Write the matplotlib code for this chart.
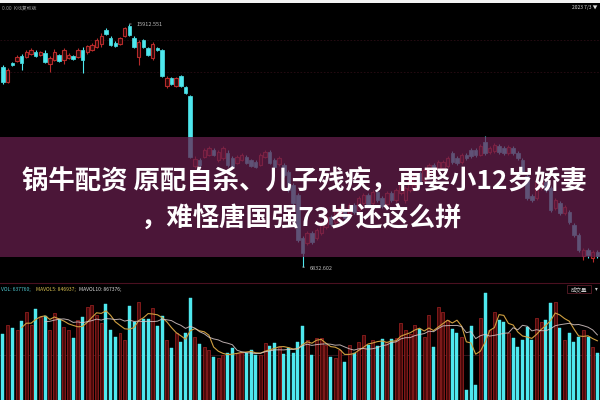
import matplotlib
matplotlib.use('Agg')
import matplotlib.pyplot as plt
import numpy as np
from matplotlib.patches import Rectangle

plt.rcParams['font.family'] = ['Noto Sans CJK SC', 'DejaVu Sans']

opens = [14320, 13720, 14480, 14560, 14760, 14720, 14840, 14920, 14800, 14880,
         14440, 14600, 14800, 14600, 14680, 14760, 14720, 15000, 14920, 15000,
         15120, 15240, 15800, 15480, 15280, 15240, 15560, 15960, 15480, 14720,
         15400, 15080, 14680, 15080, 15000, 13560, 13880, 13560, 13960, 13520,
         13160, 10360, 10600, 10720, 10800, 11000, 10600, 10680, 10880, 10680,
         10480, 10600, 10720, 10600, 10520, 10400, 10720, 10920, 10600, 10440,
         10400, 10120, 9600, 9200, 7480, 7280, 7680, 7480, 7680, 7920,
         8320, 8120, 8360, 8600, 8400, 8800, 8600, 8880, 9200, 8880,
         9320, 9080, 8840, 9280, 9000, 9280, 9000, 9400, 9600, 10080,
         9800, 10000, 10400, 10200, 10280, 10360, 10880, 10680, 10520, 10800,
         11000, 11000, 10800, 11320, 10920, 10960, 11160, 11080, 10880, 11080,
         10880, 10600, 9960, 9160, 9080, 9480, 9720, 9480, 8680, 8880,
         8480, 8520, 8000, 7600, 6760, 7000, 6680, 6920]
closes = [13720, 14200, 14400, 14720, 14480, 14920, 15000, 14760, 14920, 14520,
          14680, 14920, 14560, 15000, 14800, 14640, 15000, 14600, 15160, 15200,
          15400, 15560, 15640, 15200, 15160, 15480, 15880, 15600, 15120, 15320,
          15120, 14800, 15240, 15000, 13960, 13880, 13640, 13880, 13560, 13280,
          10720, 10640, 10400, 11000, 11080, 10800, 10920, 11080, 10400, 10320,
          10720, 10800, 10480, 10360, 10320, 10800, 10920, 10480, 10320, 10680,
          10000, 9400, 8880, 7400, 6880, 7680, 7320, 7800, 8080, 8320,
          8040, 8600, 8680, 8280, 8800, 8520, 9080, 9200, 8800, 9320,
          9000, 8760, 9280, 9000, 9400, 9680, 9480, 9800, 10000, 9680,
          10200, 10400, 10120, 10520, 10520, 10680, 10520, 10480, 10800, 10680,
          10760, 10800, 11160, 10880, 11080, 11200, 10920, 10880, 11120, 10880,
          10680, 10120, 9080, 9000, 9720, 9720, 9400, 8600, 9000, 8480,
          8720, 8120, 7600, 7000, 7000, 6800, 6920, 6760]
highs = [14400, 14280, 14520, 14800, 14840, 15000, 15080, 15000, 14960, 15000,
         14760, 15040, 14840, 15080, 14880, 14800, 15080, 15120, 15200, 15280,
         15480, 15680, 15880, 15560, 15360, 15520, 15920, 16040, 15560, 15400,
         15440, 15120, 15320, 15120, 15040, 13960, 13920, 13920, 14000, 13560,
         13200, 10760, 10680, 11080, 11160, 11080, 11000, 11160, 11000, 10760,
         10800, 10880, 10800, 10640, 10600, 10880, 11000, 11000, 10680, 10760,
         10480, 10200, 9680, 9280, 7560, 7760, 7760, 7880, 8160, 8400,
         8400, 8680, 8760, 8680, 8880, 8880, 9160, 9280, 9280, 9400,
         9400, 9160, 9360, 9360, 9480, 9760, 9560, 9880, 10080, 10160,
         10280, 10480, 10480, 10600, 10600, 10760, 10960, 10760, 10880, 10880,
         11080, 11080, 11240, 11560, 11160, 11280, 11240, 11160, 11200, 11160,
         10960, 10680, 10040, 9240, 9800, 9800, 9800, 9560, 9080, 8960,
         8800, 8600, 8080, 7680, 7080, 7080, 7000, 7000]
lows = [13640, 13680, 14360, 14520, 14200, 14680, 14800, 14720, 14760, 14480,
        14120, 14560, 14520, 14440, 14640, 14600, 14680, 14080, 14840, 14960,
        15080, 15120, 15600, 15160, 15120, 15200, 15520, 15560, 15080, 14400,
        15080, 14760, 14600, 14960, 13920, 13480, 13600, 13520, 13520, 13240,
        10680, 10280, 10320, 10680, 10760, 10760, 10520, 10600, 10320, 10280,
        10440, 10560, 10440, 10320, 10280, 10360, 10680, 10440, 10280, 10360,
        9920, 9320, 8800, 7320, 6320, 7200, 7240, 7400, 7600, 7840,
        7960, 8040, 8280, 8200, 8320, 8440, 8520, 8800, 8720, 8800,
        8920, 8680, 8760, 8920, 8920, 9200, 8880, 9320, 9480, 9600,
        9720, 9920, 10040, 10120, 10200, 10280, 10440, 10400, 10440, 10600,
        10680, 10720, 10760, 10800, 10840, 10880, 10840, 10800, 10800, 10800,
        10600, 10040, 9000, 8920, 9000, 9400, 9320, 8520, 8600, 8400,
        8400, 8040, 7520, 6920, 6600, 6680, 6520, 6680]
# volume, in units of 10,000
volumes = [66, 75, 72, 70, 79, 88, 75, 91, 83, 84,
           70, 87, 81, 73, 70, 62, 80, 83, 93, 95,
           85, 77, 96, 70, 63, 67, 60, 94, 78, 98,
           81, 81, 92, 74, 84, 60, 52, 67, 58, 67,
           102, 63, 56, 53, 50, 43, 42, 45, 47, 52,
           47, 47, 47, 50, 45, 45, 57, 54, 57, 53,
           46, 52, 47, 58, 74, 60, 45, 62, 62, 55,
           43, 42, 50, 38, 55, 47, 58, 65, 55, 60,
           54, 61, 58, 61, 62, 77, 70, 66, 75, 71,
           63, 85, 53, 93, 88, 80, 71, 67, 63, 10,
           74, 15, 82, 107, 70, 88, 80, 78, 67, 62,
           53, 60, 73, 60, 82, 78, 80, 97, 98, 72,
           60, 67, 58, 63, 70, 63, 53, 47]

high_label = "15912.551"
low_label = "6832.602"
vol_legend = ["VOL: 637760;", "MAVOL5: 846937;", "MAVOL10: 867376;"]
title_lines = ["锅牛配资 原配自杀、儿子残疾，再娶小12岁娇妻",
               "，难怪唐国强73岁还这么拼"]

UP = '#b52a2a'
DOWN = '#4ee8ee'
BG = '#000000'

n = len(opens)
idx = np.arange(n)
o = np.array(opens, float); c = np.array(closes, float)
h = np.array(highs, float); l = np.array(lows, float)
v = np.array(volumes, float)
up = c >= o

fig = plt.figure(figsize=(6, 4), dpi=100, facecolor=BG)
xlim = (-0.64, 127.56)

# price panel
ax = fig.add_axes([0, 0.30, 1, 0.69], facecolor=BG)
ax.set_xlim(*xlim)
ax.set_ylim(5800, 16840)
ax.axis('off')
for yv in [15400, 14120]:
    ax.axhline(yv, color='#2a0c14', lw=0.6, ls=(0, (2, 2)), zorder=0)

w = 0.74
for i in idx:
    col = UP if up[i] else DOWN
    bot = min(o[i], c[i]); top = max(o[i], c[i])
    ax.vlines(i, l[i], bot, color=col, lw=0.8, zorder=2)
    ax.vlines(i, top, h[i], color=col, lw=0.8, zorder=2)
    hgt = max(top - bot, 40)
    if up[i]:
        ax.add_patch(Rectangle((i - w / 2, bot), w, hgt, facecolor='#2a0808',
                               edgecolor=col, lw=0.8, zorder=3))
    else:
        ax.add_patch(Rectangle((i - w / 2, bot), w, hgt, facecolor=col,
                               edgecolor=col, lw=0.5, zorder=3))

ih = int(np.argmax(h)); il = int(np.argmin(l))
ax.annotate(high_label, xy=(ih, h[ih]), xytext=(ih + 1.6, h[ih]),
            fontsize=4, color='#bbbbbb', va='center', ha='left',
            arrowprops=dict(arrowstyle='-', color='#bbbbbb', lw=0.5))
ax.annotate(low_label, xy=(il, l[il]), xytext=(il + 1.6, l[il] - 60),
            fontsize=4, color='#bbbbbb', va='center', ha='left',
            arrowprops=dict(arrowstyle='-', color='#bbbbbb', lw=0.5))

# volume panel
axv = fig.add_axes([0, 0, 1, 0.275], facecolor=BG)
axv.set_xlim(*xlim)
axv.set_ylim(0, 110)
axv.axis('off')
axv.axhline(45, color='#3a1822', lw=0.6, zorder=0)
bw = 0.64
axv.bar(idx[~up], v[~up], width=bw, color=DOWN, edgecolor=DOWN, lw=0.3, zorder=2)
axv.bar(idx[up], v[up], width=bw, color='#4a0a0a', edgecolor='#8e1e1e', lw=0.6, zorder=2)
ma5 = np.convolve(v, np.ones(5) / 5, mode='valid')
ma10 = np.convolve(v, np.ones(10) / 10, mode='valid')
axv.plot(idx[4:], ma5, color='#d0a040', lw=0.8, zorder=4)
axv.plot(idx[9:], ma10, color='#d8c8c8', lw=0.7, zorder=4, alpha=0.85)

# separator, header strip
fig.add_artist(plt.Line2D([0, 1], [1 - 283 / 400] * 2, transform=fig.transFigure,
                          color='#4a1020', lw=0.8))
fig.add_artist(Rectangle((0, 1 - 3 / 400), 1, 3 / 400, transform=fig.transFigure,
                         facecolor='#f2f2f2', edgecolor='none'))
fig.text(0.003, 1 - 8 / 400, "0.00  K线复权版", fontsize=3.5, color='#999999', va='center')
fig.text(0.995, 1 - 8 / 400, "2023 7/3 ▼", fontsize=3.5, color='#dddddd', va='center', ha='right')

# volume legend
xs = [0.002, 0.060, 0.131]
cols = ['#4ec8d0', '#d8c050', '#d8d8d8']
for xx, t, cc in zip(xs, vol_legend, cols):
    fig.text(xx, 1 - 289 / 400, t, fontsize=3.6, color=cc, va='center')
fig.add_artist(Rectangle((567 / 600, 1 - 293 / 400), 24 / 600, 8 / 400,
                         transform=fig.transFigure, facecolor='none',
                         edgecolor='#5a1c28', lw=0.6))
fig.text(579 / 600, 1 - 289 / 400, "成交量", fontsize=4, color='#cccccc', va='center', ha='center')
fig.text(596 / 600, 1 - 289 / 400, "▾", fontsize=4, color='#cccccc', va='center', ha='center')

# banner
fig.add_artist(Rectangle((0, 1 - 257 / 400), 1, 120 / 400, transform=fig.transFigure,
                         facecolor='#661e4c', edgecolor='none', alpha=0.74, zorder=10))
fig.text(0.508, 1 - 182 / 400, title_lines[0], fontsize=19, color='white',
         fontweight='bold', ha='center', va='center', zorder=11)
fig.text(0.503, 1 - 219 / 400, title_lines[1], fontsize=19, color='white',
         fontweight='bold', ha='center', va='center', zorder=11)

fig.savefig('out.png', dpi=100, facecolor=BG)
